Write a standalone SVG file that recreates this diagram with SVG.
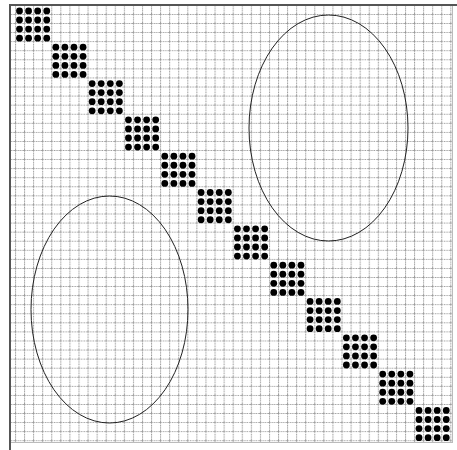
<svg xmlns="http://www.w3.org/2000/svg" xmlns:xlink="http://www.w3.org/1999/xlink" width="457" height="450" viewBox="0 0 457 450">
<style>
.grid{stroke:#9a9a9a;stroke-width:1;stroke-dasharray:1.5 1;fill:none}
.dot{fill:#000}
.ell{fill:none;stroke:#222;stroke-width:1}
</style>
<defs>
<pattern id="gp" patternUnits="userSpaceOnUse" x="15" y="14" width="9.07" height="9.07">
<line class="grid" x1="0.5" y1="0" x2="0.5" y2="9.07"/>
<line class="grid" x1="0" y1="0.5" x2="9.07" y2="0.5"/>
</pattern>
<g id="blk">
<circle class="dot" cx="19.5" cy="10.9" r="3.4"/><circle class="dot" cx="28.58" cy="10.9" r="3.4"/><circle class="dot" cx="37.66" cy="10.9" r="3.4"/><circle class="dot" cx="46.74" cy="10.9" r="3.4"/>
<circle class="dot" cx="19.5" cy="19.98" r="3.4"/><circle class="dot" cx="28.58" cy="19.98" r="3.4"/><circle class="dot" cx="37.66" cy="19.98" r="3.4"/><circle class="dot" cx="46.74" cy="19.98" r="3.4"/>
<circle class="dot" cx="19.5" cy="29.06" r="3.4"/><circle class="dot" cx="28.58" cy="29.06" r="3.4"/><circle class="dot" cx="37.66" cy="29.06" r="3.4"/><circle class="dot" cx="46.74" cy="29.06" r="3.4"/>
<circle class="dot" cx="19.5" cy="38.14" r="3.4"/><circle class="dot" cx="28.58" cy="38.14" r="3.4"/><circle class="dot" cx="37.66" cy="38.14" r="3.4"/><circle class="dot" cx="46.74" cy="38.14" r="3.4"/>
</g>
</defs>
<rect width="457" height="450" fill="#fff"/>
<rect x="10" y="5" width="443" height="438" fill="url(#gp)"/>
<rect x="10.5" y="5.5" width="442" height="437" fill="none" stroke="#bbb" stroke-width="1"/>
<line x1="10" y1="5" x2="457" y2="5" stroke="#555" stroke-width="2"/>
<line x1="10" y1="4" x2="10" y2="450" stroke="#555" stroke-width="2"/>
<g id="connectors"></g>
<g id="block1"><use xlink:href="#blk" href="#blk"/></g>
<g id="block2"><use href="#blk" transform="translate(36.32,36.32)"/></g>
<g id="block3"><use href="#blk" transform="translate(72.64,72.64)"/></g>
<g id="block4"><use href="#blk" transform="translate(108.96,108.96)"/></g>
<g id="block5"><use href="#blk" transform="translate(145.28,145.28)"/></g>
<g id="block6"><use href="#blk" transform="translate(181.6,181.6)"/></g>
<g id="block7"><use href="#blk" transform="translate(217.92,217.92)"/></g>
<g id="block8"><use href="#blk" transform="translate(254.24,254.24)"/></g>
<g id="block9"><use href="#blk" transform="translate(290.56,290.56)"/></g>
<g id="block10"><use href="#blk" transform="translate(326.88,326.88)"/></g>
<g id="block11"><use href="#blk" transform="translate(363.2,363.2)"/></g>
<g id="block12"><use href="#blk" transform="translate(399.52,399.52)"/></g>
<g id="ellipse1"><ellipse class="ell" cx="328.5" cy="128" rx="79.5" ry="113"/></g>
<g id="ellipse2"><ellipse class="ell" cx="109.5" cy="309.5" rx="78.5" ry="113.5"/></g>
</svg>
